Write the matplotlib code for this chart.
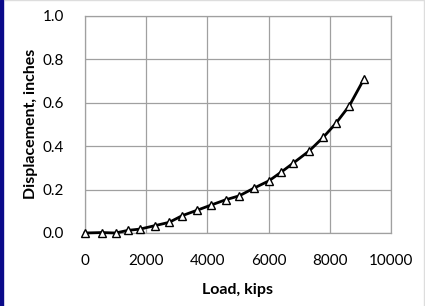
import matplotlib.pyplot as plt

plt.rcParams['font.family'] = ['Lato', 'DejaVu Sans']

# data
load = [0, 550, 1000, 1400, 1800, 2290, 2750, 3180, 3650, 4130, 4600, 5040,
        5530, 6010, 6410, 6790, 7330, 7790, 8200, 8640, 9110]
disp = [0.0, 0.002, 0.0, 0.012, 0.018, 0.034, 0.049, 0.080, 0.104, 0.129, 0.153, 0.171,
        0.207, 0.240, 0.280, 0.320, 0.378, 0.441, 0.505, 0.586, 0.707]

xticks = [0, 2000, 4000, 6000, 8000, 10000]
yticks = [0.0, 0.2, 0.4, 0.6, 0.8, 1.0]

fig = plt.figure(figsize=(4.25, 3.06), dpi=100)
ax = fig.add_axes([0.2, 0.2386, 0.72, 0.71])

# strip of blue on the left, thin grey frame top/right
fig.patches.append(plt.Rectangle((0, 0), 3 / 425, 1, transform=fig.transFigure,
                                 color='#0a0a8a', zorder=10))
fig.lines.append(plt.Line2D([0, 1], [0.999, 0.999], transform=fig.transFigure,
                            color='#dddddd', lw=1))
fig.lines.append(plt.Line2D([0.998, 0.998], [0, 1], transform=fig.transFigure,
                            color='#dddddd', lw=1))

ax.plot(load, disp, color='black', lw=2.0, marker='^', markersize=5.5,
        markerfacecolor='white', markeredgecolor='black', markeredgewidth=1.0,
        clip_on=False, zorder=3)

ax.set_xlim(0, 10000)
ax.set_ylim(0, 1.0)
ax.set_xticks(xticks)
ax.set_yticks(yticks)
ax.set_yticklabels(['%.1f' % v for v in yticks])
ax.grid(True, color='#a0a0a0', lw=0.9)
ax.set_axisbelow(True)
for s in ax.spines.values():
    s.set_color('#a0a0a0')
    s.set_linewidth(0.9)
ax.tick_params(axis='x', length=0, labelsize=11, pad=15)
ax.tick_params(axis='y', length=0, labelsize=11, pad=15)

ax.set_xlabel('Load, kips', fontsize=11.5, fontweight='bold', va='center')
ax.set_ylabel('Displacement, inches', fontsize=11.5, fontweight='bold', va='center')
ax.xaxis.set_label_coords(0.5, -0.262)
ax.yaxis.set_label_coords(-0.176, 0.5)

plt.savefig('out.png', dpi=100)
